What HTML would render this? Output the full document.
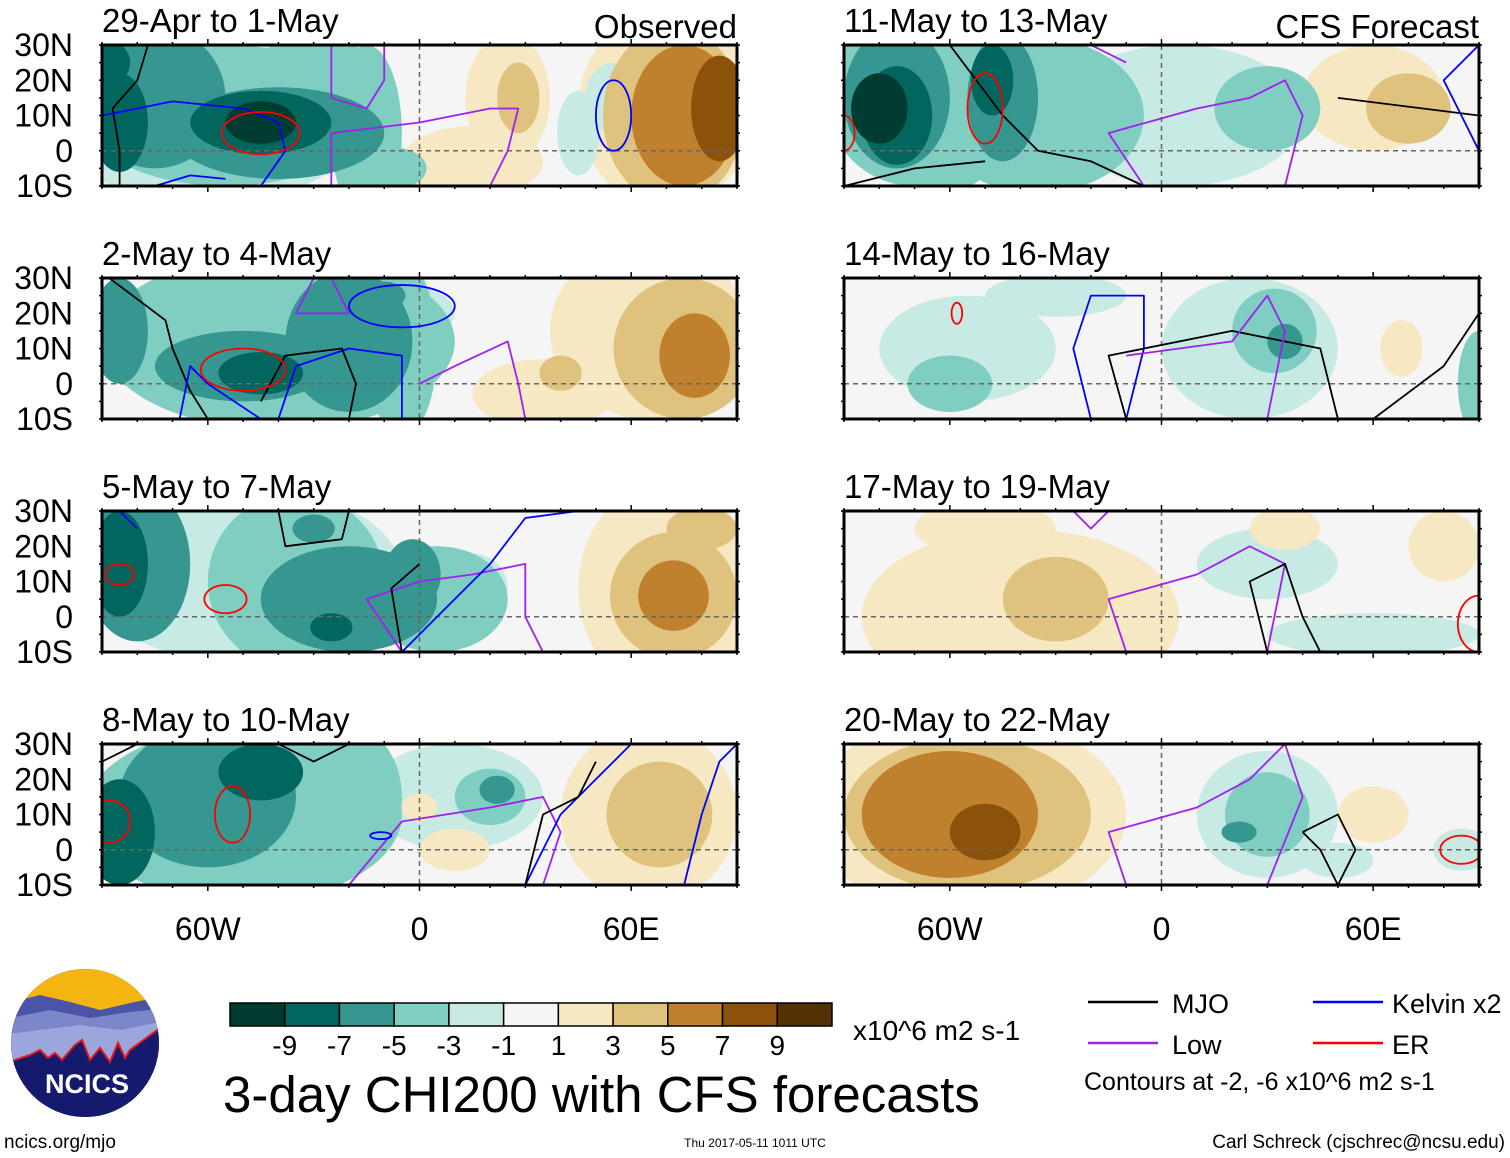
<!DOCTYPE html>
<html><head><meta charset="utf-8"><style>
html,body{margin:0;padding:0;background:#fff;}
svg{display:block;font-family:"Liberation Sans",sans-serif;}
</style></head><body>
<svg id="fig" width="1510" height="1158" viewBox="0 0 1510 1158" xmlns="http://www.w3.org/2000/svg">
<defs></defs>
</svg>
<script>
// ---- data ----
const panelTitles = ["29-Apr to 1-May","2-May to 4-May","5-May to 7-May","8-May to 10-May","11-May to 13-May","14-May to 16-May","17-May to 19-May","20-May to 22-May"];
const levelValues = [-9,-7,-5,-3,-1,1,3,5,7,9];
const levelColors = ["#003c30","#01665e","#35978f","#80cdc1","#c7eae5","#f5f5f5","#f6e8c3","#dfc27d","#bf812d","#8c510a","#543005"];
const latTicks = ["30N","20N","10N","0","10S"];
const latTickValues = [30,20,10,0,-10];
const lonTickLabels = ["60W","0","60E"];
const lonTickValues = [-60,0,60];
// anomaly blobs per panel: [lon, lat, rxDeg, ryDeg, level]
const blobs1 = [[-60,10,45,25,-1],[-55,10,40,20,-3],[-75,15,20,20,-5],[-40,5,30,13,-5],[-45,8,20,9,-7],[-45,8,10,6,-9],[-85,8,8,14,-7],[-88,25,6,6,-7],[-30,25,15,8,-3],[-15,5,10,25,-3],[-8,-5,10,6,-3],[15,-3,20,10,1],[25,15,12,18,1],[28,15,6,10,3],[70,12,25,28,1],[72,10,20,25,3],[75,10,15,20,5],[85,12,8,15,7],[45,5,6,12,-1],[55,15,8,10,-1]];
const blobs2 = [[-40,12,50,25,-3],[-20,12,18,20,-5],[-50,5,25,10,-5],[-45,3,12,6,-7],[-85,15,8,15,-5],[-10,25,6,4,-5],[-5,10,10,25,-3],[-5,20,15,8,-1],[35,-3,20,10,1],[40,3,6,5,3],[65,15,28,25,1],[75,10,20,20,3],[78,8,10,12,5]];
const blobs3 = [[-50,12,45,25,-1],[-80,15,15,22,-5],[-85,15,8,15,-7],[-35,10,25,25,-3],[-20,5,25,15,-5],[-25,-3,6,4,-7],[-30,25,6,4,-5],[5,5,20,15,-3],[15,8,10,10,-1],[-2,12,8,10,-5],[70,8,25,30,1],[72,6,18,18,3],[72,6,10,10,5],[80,25,10,6,3]];
const blobs4 = [[-50,10,45,25,-3],[-60,15,25,20,-5],[-45,22,12,8,-7],[-85,5,10,15,-7],[-20,15,15,20,-3],[10,15,25,15,-1],[20,15,10,8,-3],[22,17,5,4,-5],[65,10,25,25,1],[68,10,15,15,3],[0,12,5,4,1],[10,0,10,6,1]];
const blobs5 = [[-70,15,25,25,-3],[-75,15,15,20,-5],[-75,10,10,14,-7],[-80,12,8,10,-9],[-35,10,30,22,-3],[-45,15,10,18,-5],[-48,20,6,10,-7],[-60,-5,10,6,-3],[5,10,35,20,-1],[30,12,15,12,-3],[60,15,20,15,1],[70,12,12,10,3],[-25,0,12,8,-1]];
const blobs6 = [[-55,10,25,15,-1],[-60,0,12,8,-3],[-40,10,10,10,-1],[25,10,25,20,-1],[32,15,12,12,-3],[35,12,5,5,-5],[68,10,6,8,1],[90,0,6,15,-3],[-30,25,20,6,-1]];
const blobs7 = [[-40,0,45,25,1],[-30,5,15,12,3],[-50,25,20,8,1],[30,15,20,10,-1],[35,25,10,6,1],[80,20,10,10,1],[60,-5,30,6,-1]];
const blobs8 = [[-55,10,45,28,1],[-55,10,35,22,3],[-60,10,25,18,5],[-50,5,10,8,7],[30,10,20,18,-1],[30,10,12,12,-3],[22,5,5,3,-5],[60,10,10,8,1],[50,-3,10,5,-1],[85,0,8,6,-1]];
const allBlobs = [blobs1,blobs2,blobs3,blobs4,blobs5,blobs6,blobs7,blobs8];
// contour lines: color key, points [lon,lat]; ellipses: [lon,lat,rx,ry]
const lines1 = [["k",[[-77,30],[-80,20],[-87,12],[-85,0],[-85,-10]]],["b",[[-90,10],[-70,14],[-50,12],[-40,8],[-38,0],[-45,-10]]],["b",[[-75,-10],[-65,-7],[-55,-8]]],["p",[[-25,30],[-25,15],[-15,12],[-10,20],[-10,30]]],["p",[[-25,-10],[-25,5],[0,8],[20,12],[28,12],[25,0],[20,-10]]]];
const ell1 = [["r",[-45,5,11,6]],["b",[55,10,5,10]]];
const lines2 = [["k",[[-88,30],[-72,18],[-70,10],[-65,-2],[-60,-10]]],["b",[[-68,-10],[-65,5],[-60,0],[-45,-10]]],["b",[[-40,-10],[-35,5],[-20,10],[-5,8],[-5,-10]]],["k",[[-45,-5],[-38,8],[-22,10],[-18,0],[-20,-10]]],["p",[[-30,30],[-35,20],[-20,20],[-25,30]]],["p",[[0,0],[10,5],[25,12],[28,0],[30,-10]]]];
const ell2 = [["r",[-50,4,12,6]],["b",[-5,22,15,6]]];
const lines3 = [["k",[[-40,30],[-38,20],[-22,22],[-20,30]]],["p",[[-5,-10],[-15,5],[0,10],[15,12],[30,15],[30,0],[35,-10]]],["b",[[-5,-10],[5,0],[20,15],[30,28],[45,30]]],["k",[[-5,-10],[-8,8],[0,15]]],["b",[[-80,25],[-85,30]]]];
const ell3 = [["r",[-55,5,6,4]],["r",[-85,12,4,3]]];
const lines4 = [["k",[[-90,25],[-80,30]]],["k",[[-40,30],[-30,25],[-20,30]]],["p",[[-20,-10],[-5,8],[20,12],[35,15],[40,5],[35,-10]]],["b",[[30,-10],[40,10],[50,20],[60,30]]],["b",[[75,-10],[80,10],[85,25],[90,30]]],["k",[[30,-10],[35,10],[45,15],[50,25]]]];
const ell4 = [["r",[-53,10,5,8]],["r",[-88,8,6,6]],["b",[-11,4,3,1]]];
const lines5 = [["k",[[-60,30],[-45,10],[-35,0],[-20,-3],[-5,-10]]],["k",[[-90,-10],[-70,-5],[-50,-3]]],["p",[[-20,30],[-10,25]]],["p",[[-5,-10],[-15,5],[10,12],[25,15],[35,20],[40,10],[35,-10]]],["k",[[50,15],[90,10]]],["b",[[90,0],[85,10],[80,20],[90,30]]]];
const ell5 = [["r",[-50,12,5,10]],["r",[-90,5,3,5]]];
const lines6 = [["b",[[-20,-10],[-25,10],[-20,25],[-5,25],[-5,10],[-10,-10]]],["k",[[-10,-10],[-15,8],[20,15],[45,10],[50,-10]]],["p",[[-10,8],[20,12],[30,25],[35,15],[30,-10]]],["k",[[60,-10],[80,5],[90,20]]]];
const ell6 = [["r",[-58,20,1.5,3]]];
const lines7 = [["p",[[-10,-10],[-15,5],[10,12],[25,20],[35,15],[30,-10]]],["k",[[30,-10],[25,10],[35,15],[40,0],[45,-10]]],["p",[[-25,30],[-20,25],[-15,30]]]];
const ell7 = [["r",[90,-2,6,8]]];
const lines8 = [["p",[[-10,-10],[-15,5],[10,12],[25,20],[35,30],[40,15],[30,-10]]],["k",[[40,5],[45,0],[50,-10]]],["k",[[40,5],[50,10],[55,0],[50,-10]]]];
const ell8 = [["r",[85,0,6,4]]];
const allLines = [lines1,lines2,lines3,lines4,lines5,lines6,lines7,lines8];
const allEll = [ell1,ell2,ell3,ell4,ell5,ell6,ell7,ell8];
const contourColors = {k:"#000000",p:"#a020f0",b:"#0000ff",r:"#ff0000"};

// ---- drawing ----
const NS="http://www.w3.org/2000/svg";
const svg=document.getElementById('fig');
const defs=svg.querySelector('defs');
function mk(tag,attrs,parent){const e=document.createElementNS(NS,tag);for(const k in attrs)e.setAttribute(k,attrs[k]);(parent||svg).appendChild(e);return e;}
const PW=635, PH=141;
const panelX=[102,844], panelY=[45,278,511,744];
function colorFor(level){
  let idx = level<0 ? Math.round((level+9)/2) : Math.round((level+11)/2);
  idx=Math.max(0,Math.min(levelColors.length-1,idx));
  return levelColors[idx];
}

for(let p=0;p<8;p++){
  const px=panelX[p<4?0:1], py=panelY[p%4];
  const xs=lon=>px+(lon+90)*PW/180;
  const ys=lat=>py+(30-lat)*PH/40;
  const sx=PW/180, sy=PH/40;
  const cp=mk('clipPath',{id:'clip'+p},defs);
  mk('rect',{x:px,y:py,width:PW,height:PH},cp);
  const g=mk('g',{'clip-path':'url(#clip'+p+')'});
  
  
  mk('rect',{x:px,y:py,width:PW,height:PH,fill:'#f5f5f5'},g);
  const bl=allBlobs[p].slice().sort((a,b)=>Math.abs(a[4])-Math.abs(b[4]));
  bl.forEach(b=>{
    const e=mk('ellipse',{cx:xs(b[0]),cy:ys(b[1]),rx:b[2]*sx,ry:b[3]*sy,fill:colorFor(b[4])},g);
    
    
  });
  mk('line',{x1:px,x2:px+PW,y1:ys(0),y2:ys(0),stroke:'#666','stroke-width':1.5,'stroke-dasharray':'5,4'},g);
  mk('line',{x1:xs(0),x2:xs(0),y1:py,y2:py+PH,stroke:'#666','stroke-width':1.5,'stroke-dasharray':'5,4'},g);
  allLines[p].forEach(l=>{
    const d=l[1].map((q,i)=>(i?'L':'M')+xs(q[0]).toFixed(1)+','+ys(q[1]).toFixed(1)).join(' ');
    const e=mk('path',{d:d,fill:'none',stroke:contourColors[l[0]],'stroke-width':1.8,'stroke-linejoin':'round'},g);
    
    
  });
  allEll[p].forEach(l=>{
    const q=l[1];
    const e=mk('ellipse',{cx:xs(q[0]),cy:ys(q[1]),rx:q[2]*sx,ry:q[3]*sy,fill:'none',stroke:contourColors[l[0]],'stroke-width':1.8},g);
    
    
  });
  const fr=mk('rect',{x:px,y:py,width:PW,height:PH,fill:'none',stroke:'#000','stroke-width':3});
  
  
  for(let lon=-90;lon<=90;lon+=10){
    const major=(lon%60===0);
    mk('line',{x1:xs(lon),x2:xs(lon),y1:py,y2:py+(major?-6:-3),stroke:'#000','stroke-width':1.5});
    mk('line',{x1:xs(lon),x2:xs(lon),y1:py+PH,y2:py+PH+(major?6:3),stroke:'#000','stroke-width':1.5});
  }
  for(let lat=-10;lat<=30;lat+=5){
    mk('line',{x1:px,x2:px-3,y1:ys(lat),y2:ys(lat),stroke:'#000','stroke-width':1.5});
    mk('line',{x1:px+PW,x2:px+PW+3,y1:ys(lat),y2:ys(lat),stroke:'#000','stroke-width':1.5});
  }
  const t=mk('text',{x:px,y:py-13,'font-size':33});
  t.textContent=panelTitles[p];
  
  
  if(p<4){
    latTickValues.forEach((v,i)=>{
      const tt=mk('text',{x:73,y:ys(v)+11,'font-size':32,'text-anchor':'end'});
      tt.textContent=latTicks[i];
      
      
    });
  }
  if(p%4===3){
    lonTickValues.forEach((v,i)=>{
      const tt=mk('text',{x:xs(v),y:py+PH+55,'font-size':32,'text-anchor':'middle'});
      tt.textContent=lonTickLabels[i];
      
      
    });
  }
}
[["Observed",737],["CFS Forecast",1479]].forEach(a=>{
  const t=mk('text',{x:a[1],y:38,'font-size':33,'text-anchor':'end'});
  t.textContent=a[0];
  
  
});
// colorbar
const cbX=230, cbW=602, cbY=1003, cbH=23, bw=cbW/levelColors.length;
levelColors.forEach((c,i)=>{
  const r=mk('rect',{x:cbX+i*bw,y:cbY,width:bw,height:cbH,fill:c,stroke:'#000','stroke-width':1.5});
  
  
});
levelValues.forEach((v,i)=>{
  const t=mk('text',{x:cbX+(i+1)*bw,y:1055,'font-size':28,'text-anchor':'middle'});
  t.textContent=String(v);
  
  
});
function txt(s,attrs,name){const t=mk('text',attrs);t.textContent=s;return t;}
txt("x10^6 m2 s-1",{x:853,y:1040,'font-size':28},'colorbar-units');
txt("3-day CHI200 with CFS forecasts",{x:223,y:1112,'font-size':51},'figure-title');
// legend
[["MJO","#000",1088,1002,84],["Low","#a020f0",1088,1043,84],["Kelvin x2","#0000ff",1313,1002,79],["ER","#ff0000",1313,1043,79]].forEach(l=>{
  const ln=mk('line',{x1:l[2],x2:l[2]+70,y1:l[3],y2:l[3],stroke:l[1],'stroke-width':2.5});
  
  
  txt(l[0],{x:l[2]+l[4],y:l[3]+11,'font-size':27},'legend-entry');
});
txt("Contours at -2, -6 x10^6 m2 s-1",{x:1084,y:1090,'font-size':25},'contour-note');
txt("ncics.org/mjo",{x:4,y:1148,'font-size':19},'source-url');
txt("Thu 2017-05-11 1011 UTC",{x:755,y:1147,'font-size':12,'text-anchor':'middle'},'timestamp');
txt("Carl Schreck (cjschrec@ncsu.edu)",{x:1505,y:1148,'font-size':19,'text-anchor':'end'},'author-credit');
// logo
const lg=mk('g',{});


const lc=mk('clipPath',{id:'logoclip'},defs);
mk('circle',{cx:85,cy:1043,r:74},lc);
const lgi=mk('g',{'clip-path':'url(#logoclip)'},lg);
mk('rect',{x:0,y:960,width:180,height:170,fill:'#161a6e'},lgi);
mk('rect',{x:0,y:960,width:180,height:50,fill:'#f5b511'},lgi);
mk('path',{d:'M0,1005 L40,995 L70,1002 L100,1010 L130,1003 L170,995 L170,1060 L0,1060Z',fill:'#4b55a8'},lgi);
mk('path',{d:'M0,1020 L50,1010 L90,1018 L130,1012 L170,1008 L170,1060 L0,1060Z',fill:'#7c86c8'},lgi);
mk('path',{d:'M0,1035 L40,1030 L80,1025 L120,1030 L170,1020 L170,1060 L0,1060Z',fill:'#9aa6dc'},lgi);
mk('path',{d:'M0,1065 L30,1055 L40,1050 L48,1058 L55,1053 L62,1060 L75,1045 L82,1040 L90,1060 L100,1048 L110,1062 L118,1043 L125,1058 L130,1050 L160,1028 L170,1020 L170,1130 L0,1130Z',fill:'#161a6e',stroke:'#e0161c','stroke-width':2},lgi);
const lt=mk('text',{x:87,y:1093,'font-size':27,'font-weight':'bold',fill:'#fff','text-anchor':'middle'},lg);
lt.textContent="NCICS";
</script>
</body></html>
